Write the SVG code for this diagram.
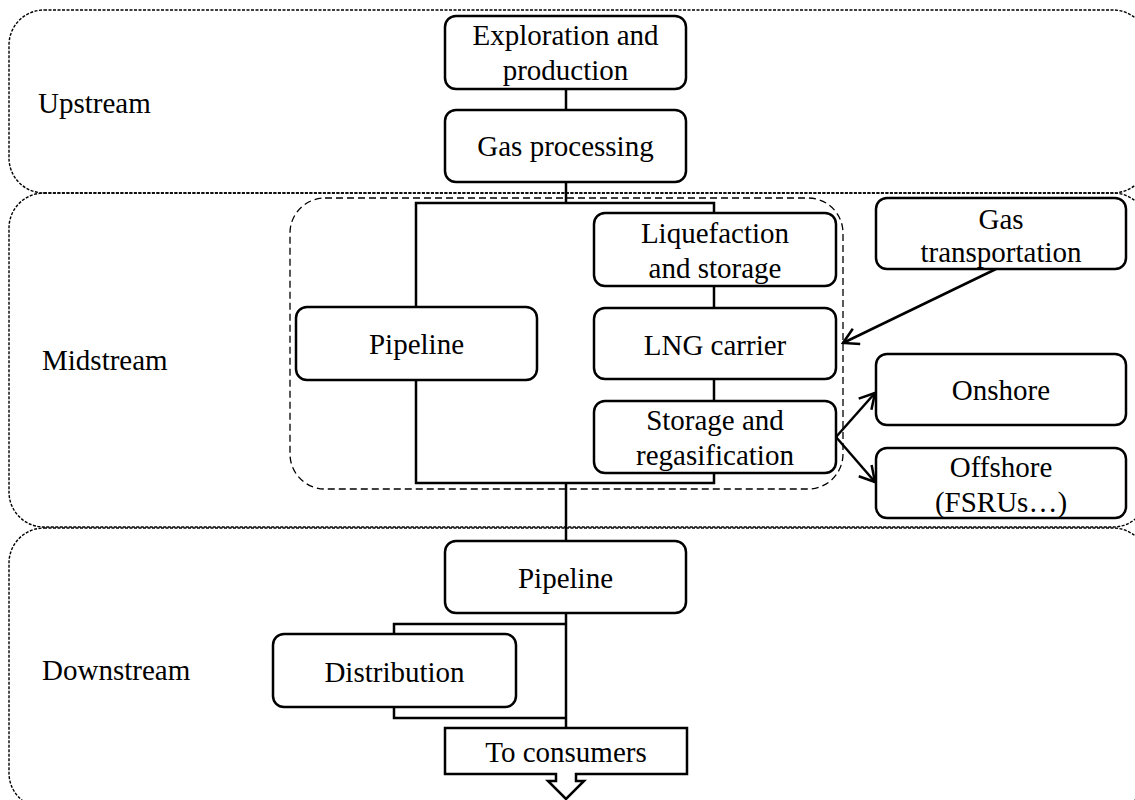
<svg xmlns="http://www.w3.org/2000/svg" width="1135" height="800" viewBox="0 0 1135 800">
<defs>
<style>
.band{fill:none;stroke:#000;stroke-width:1.4;stroke-dasharray:3 1.5}
.grp{fill:none;stroke:#000;stroke-width:1.3;stroke-dasharray:7 4}
.node{fill:#fff;stroke:#000;stroke-width:2.5}
.t{font-family:'Liberation Serif','Times New Roman',Tinos,'DejaVu Serif',serif;font-size:29px;fill:#000}
.c{text-anchor:middle}
.ln{fill:none;stroke:#000;stroke-width:2.5}
</style>
<marker id="open" viewBox="0 0 20 20" refX="18" refY="10" markerWidth="20" markerHeight="20" markerUnits="userSpaceOnUse" orient="auto">
<path d="M3,1.5 L18,10 L3,18.5" fill="none" stroke="#000" stroke-width="2.5"/>
</marker>
</defs>
<rect width="1135" height="800" fill="#fff"/>
<g id="bands">
<rect class="band" x="9" y="10" width="1139" height="183" rx="35" ry="35"/>
<rect class="band" x="9" y="193" width="1139" height="334" rx="35" ry="35"/>
<rect class="band" x="9" y="528" width="1139" height="280" rx="35" ry="35"/>
<rect class="grp" x="290" y="198" width="553" height="291" rx="35" ry="35"/>
</g>
<g id="band-labels">
<text class="t" x="38" y="113">Upstream</text>
<text class="t" x="42" y="370">Midstream</text>
<text class="t" x="42" y="680">Downstream</text>
</g>
<g id="connectors">
<path class="ln" d="M566,89 V110 M566,182 V203 M416,307 V203 H714 V213 M714,286 V308 M714,379 V401 M714,473 V483 H416 V380 M566,483 V541 M566,613 V728 M566,624 H394 V634 M394,707 V718 H566"/>
<path class="ln" d="M996,269 L843,343" marker-end="url(#open)"/>
<path class="ln" d="M836,437 L875,393" marker-end="url(#open)"/>
<path class="ln" d="M836,437 L875,482" marker-end="url(#open)"/>
</g>
<g id="n-exploration">
<rect class="node" x="445" y="16" width="241" height="73" rx="11"/>
<text class="t c" x="565.5" y="45">Exploration and</text>
<text class="t c" x="565.5" y="80">production</text>
</g>
<g id="n-gasproc">
<rect class="node" x="445" y="110" width="241" height="72" rx="11"/>
<text class="t c" x="565.5" y="156">Gas processing</text>
</g>
<g id="n-pipeline-mid">
<rect class="node" x="296" y="307" width="241" height="73" rx="11"/>
<text class="t c" x="416.5" y="354">Pipeline</text>
</g>
<g id="n-liquefaction">
<rect class="node" x="594" y="213" width="242" height="73" rx="11"/>
<text class="t c" x="715" y="243">Liquefaction</text>
<text class="t c" x="715" y="278">and storage</text>
</g>
<g id="n-lng">
<rect class="node" x="594" y="308" width="242" height="71" rx="11"/>
<text class="t c" x="715" y="355">LNG carrier</text>
</g>
<g id="n-regas">
<rect class="node" x="594" y="401" width="242" height="72" rx="11"/>
<text class="t c" x="715" y="430">Storage and</text>
<text class="t c" x="715" y="465">regasification</text>
</g>
<g id="n-gastrans">
<rect class="node" x="876" y="198" width="250" height="71" rx="11"/>
<text class="t c" x="1001" y="229">Gas</text>
<text class="t c" x="1001" y="262">transportation</text>
</g>
<g id="n-onshore">
<rect class="node" x="876" y="354" width="250" height="71" rx="11"/>
<text class="t c" x="1001" y="400">Onshore</text>
</g>
<g id="n-offshore">
<rect class="node" x="876" y="448" width="250" height="70" rx="11"/>
<text class="t c" x="1001" y="477">Offshore</text>
<text class="t c" x="1001" y="512">(FSRUs…)</text>
</g>
<g id="n-pipeline-down">
<rect class="node" x="445" y="541" width="241" height="72" rx="11"/>
<text class="t c" x="565.5" y="588">Pipeline</text>
</g>
<g id="n-distribution">
<rect class="node" x="273" y="634" width="243" height="73" rx="11"/>
<text class="t c" x="394.5" y="682">Distribution</text>
</g>
<g id="n-consumers">
<path class="node" d="M445,728 H687 V774 H576 V781 H584 L566,799 L548,781 H556 V774 H445 Z"/>
<text class="t c" x="566" y="762">To consumers</text>
</g>
</svg>
